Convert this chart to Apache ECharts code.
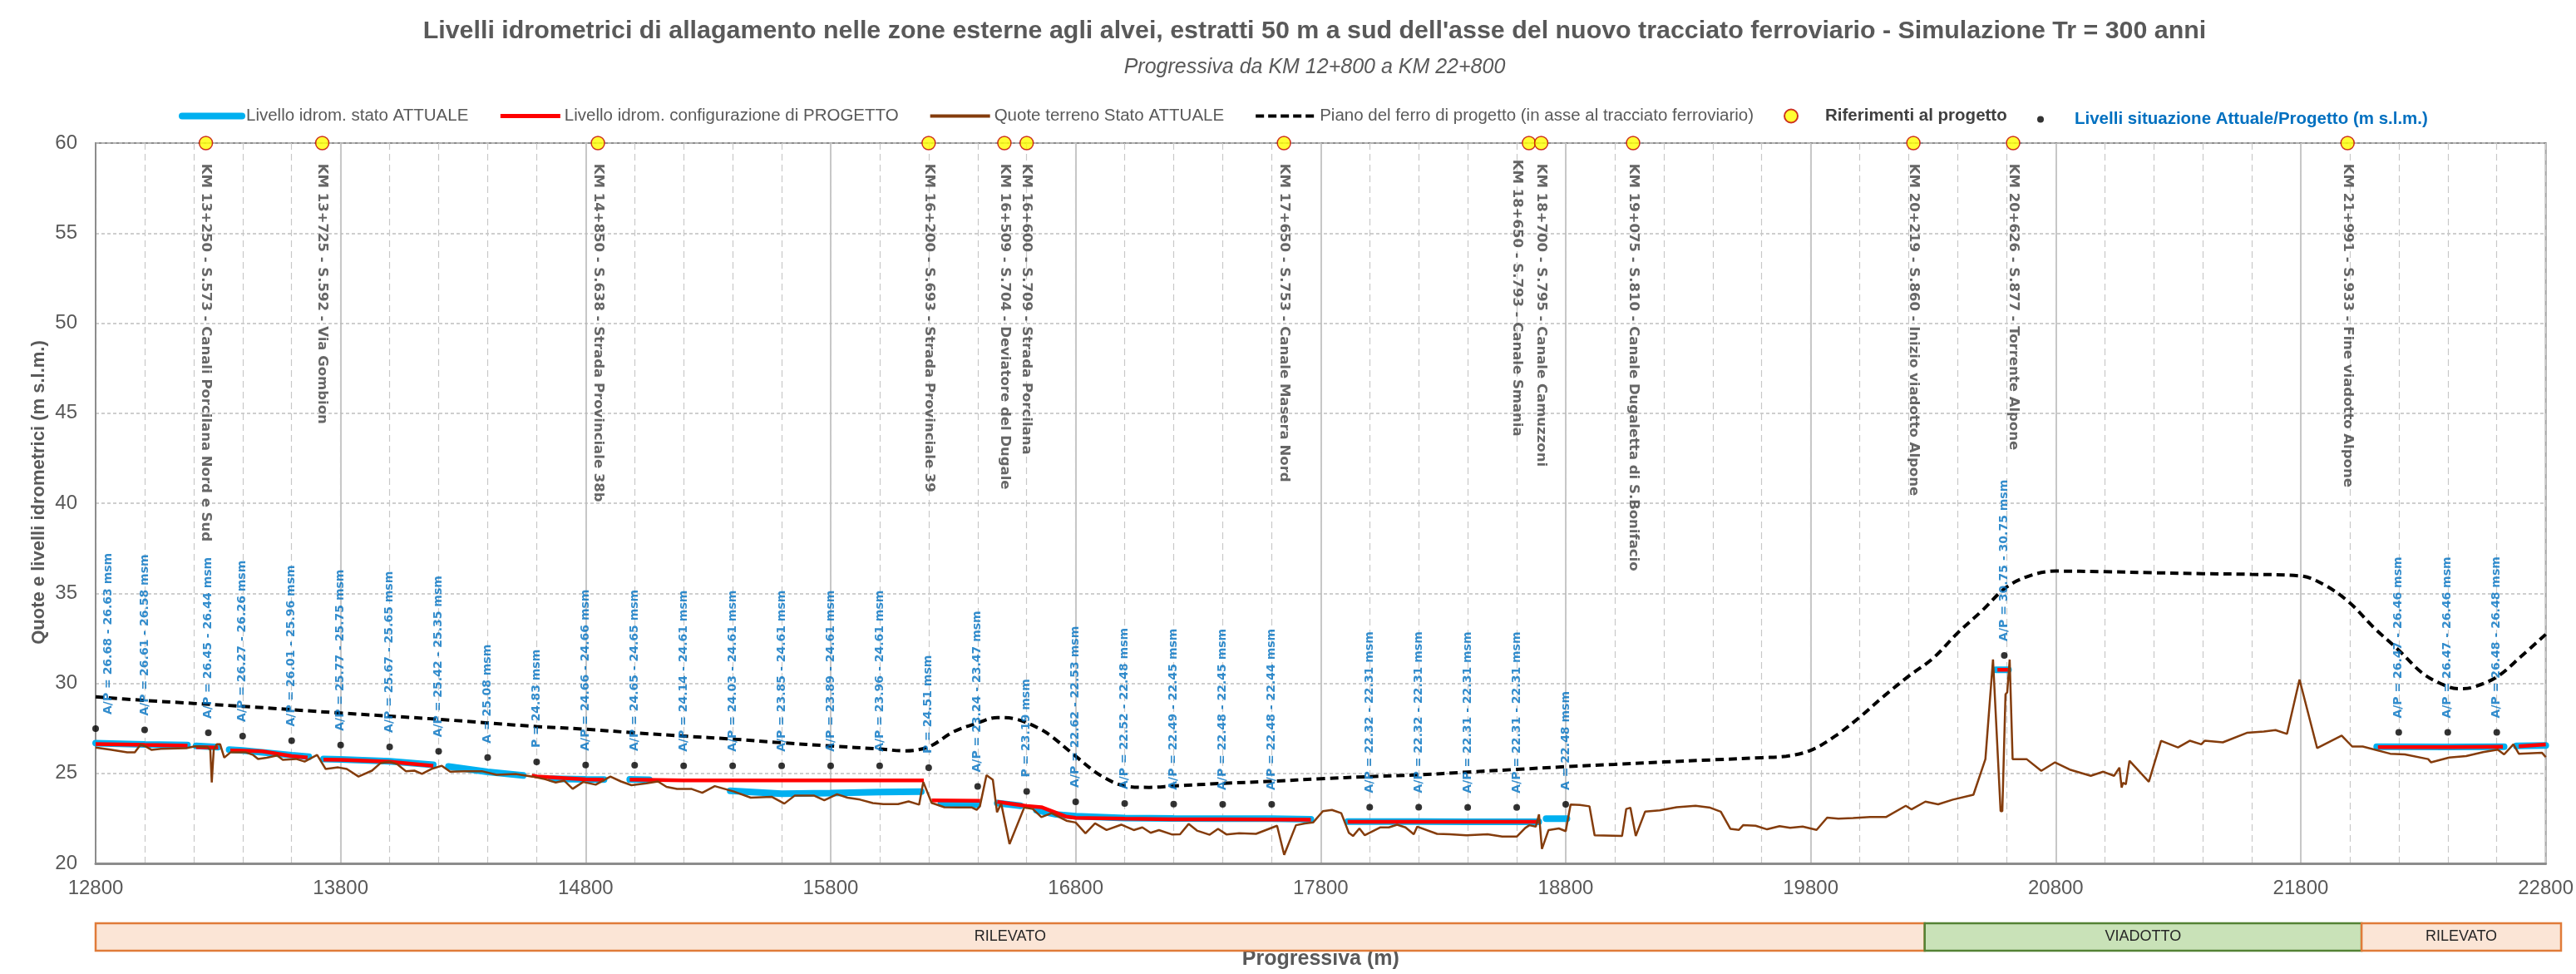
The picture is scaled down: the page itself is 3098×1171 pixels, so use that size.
<!DOCTYPE html>
<html>
<head>
<meta charset="utf-8">
<script src="https://cdn.jsdelivr.net/npm/echarts@6/dist/echarts.min.js"></script>
<style>html,body{margin:0;padding:0;background:#fff}#c{width:3098px;height:1171px}</style>
</head>
<body>
<div id="c"></div>
<script>
// ---------------- DATA ----------------
const titleText = "Livelli idrometrici di allagamento nelle zone esterne agli alvei, estratti 50 m a sud dell'asse del nuovo tracciato ferroviario - Simulazione Tr = 300 anni";
const subtitleText = "Progressiva da KM 12+800 a KM 22+800";
const yTitle = "Quote e livelli idrometrici (m s.l.m.)";
const xTitle = "Progressiva (m)";
const legendNames = ["Livello idrom. stato ATTUALE", "Livello idrom. configurazione di PROGETTO", "Quote terreno Stato ATTUALE", "Piano del ferro di progetto (in asse al tracciato ferroviario)", "Riferimenti al progetto", "Livelli situazione Attuale/Progetto (m s.l.m.)"];

// measurement points (progressiva, m) and levels A (attuale) / P (progetto), m s.l.m.
const pointKm = [12800,13000,13260,13400,13600,13800,14000,14200,14400,14600,14800,15000,15200,15400,15600,15800,16000,16200,16400,16600,16800,17000,17200,17400,17600,18000,18200,18400,18600,18800,20590,22200,22400,22600];
const levelA = [26.68,26.61,26.45,26.27,26.01,25.77,25.67,25.42,25.08,null,24.66,24.65,24.14,24.03,23.85,23.89,23.96,null,23.24,null,22.62,22.52,22.49,22.48,22.48,22.32,22.32,22.31,22.31,22.48,30.75,26.47,26.47,26.48];
const levelP = [26.63,26.58,26.44,26.26,25.96,25.75,25.65,25.35,null,24.83,24.66,24.65,24.61,24.61,24.61,24.61,24.61,24.51,23.47,23.19,22.53,22.48,22.45,22.45,22.44,22.31,22.31,22.31,22.31,null,30.75,26.46,26.46,26.48];

// project references (drawn at the top of the chart)
const refKm = [13250,13725,14850,16200,16509,16600,17650,18650,18700,19075,20219,20626,21991];
const refLevel = 60;
const refLabels = [
  "KM 13+250 - S.573 - Canali Porcilana Nord e Sud",
  "KM 13+725 - S.592 - Via Gombion",
  "KM 14+850 - S.638 - Strada Provinciale 38b",
  "KM 16+200 - S.693 - Strada Provinciale 39",
  "KM 16+509 - S.704 - Deviatore del Dugale",
  "KM 16+600 - S.709 - Strada Porcilana",
  "KM 17+650 - S.753 - Canale Masera Nord",
  "KM 18+650 - S.793 - Canale Smania",
  "KM 18+700 - S.795 - Canale Camuzzoni",
  "KM 19+075 - S.810 - Canale Dugaletta di S.Bonifacio",
  "KM 20+219 - S.860 - Inizio viadotto Alpone",
  "KM 20+626 - S.877 - Torrente Alpone",
  "KM 21+991 - S.933 - Fine viadotto Alpone"
];

// water level segments - stato attuale
const attualeSegments = [
  [[12800,26.68],[13000,26.61],[13175,26.57]],
  [[13210,26.52],[13300,26.46]],
  [[13345,26.32],[13400,26.27],[13600,26.01],[13670,25.92]],
  [[13730,25.8],[13800,25.77],[14000,25.67],[14178,25.47]],
  [[14240,25.38],[14400,25.08],[14545,24.88]],
  [[14660,24.7],[14800,24.66],[14875,24.65]],
  [[14980,24.66],[15060,24.64]],
  [[15390,24.03],[15600,23.87],[15800,23.9],[16000,23.96],[16170,23.98]],
  [[16250,23.32],[16400,23.26]],
  [[16480,23.35],[16575,23.2]],
  [[16640,22.95],[16720,22.72],[16800,22.62],[17000,22.52],[17200,22.49],[17400,22.48],[17600,22.48],[17760,22.45]],
  [[17910,22.32],[18200,22.32],[18400,22.31],[18690,22.31]],
  [[18720,22.48],[18805,22.48]],
  [[20555,30.75],[20607,30.75]],
  [[22110,26.48],[22400,26.47],[22630,26.48]],
  [[22680,26.52],[22800,26.55]]
];
// water level segments - configurazione di progetto
const progettoSegments = [
  [[12800,26.63],[13000,26.58],[13175,26.54]],
  [[13210,26.45],[13300,26.43]],
  [[13350,26.27],[13400,26.26],[13480,26.22],[13600,25.96],[13665,25.88]],
  [[13730,25.76],[13800,25.75],[14000,25.65],[14178,25.42]],
  [[14580,24.88],[14600,24.83],[14800,24.66],[14875,24.64]],
  [[14980,24.65],[15200,24.61],[16180,24.61]],
  [[16212,23.5],[16410,23.47]],
  [[16480,23.42],[16600,23.19],[16660,23.12],[16760,22.6],[16800,22.53],[17000,22.48],[17200,22.45],[17400,22.45],[17600,22.44],[17760,22.42]],
  [[17910,22.31],[18690,22.31]],
  [[20562,30.75],[20605,30.75]],
  [[22115,26.46],[22400,26.46],[22625,26.48]],
  [[22690,26.5],[22800,26.6]]
];

// ground profile - stato attuale
const terreno = [[12800,26.43],[12860,26.32],[12929,26.17],[12960,26.17],[12984,26.6],[13007,26.47],[13029,26.3],[13067,26.36],[13170,26.4],[13205,26.5],[13256,26.47],[13268,26.3],[13274,24.49],[13282,26.3],[13295,26.62],[13308,26.62],[13325,25.87],[13351,26.17],[13412,26.17],[13443,26.02],[13463,25.8],[13498,25.87],[13541,25.99],[13564,25.75],[13618,25.8],[13653,25.65],[13704,26.02],[13739,25.24],[13790,25.33],[13825,25.24],[13873,24.82],[13928,25.15],[13963,25.57],[13998,25.65],[14032,25.5],[14066,25.12],[14101,25.15],[14132,24.97],[14170,25.24],[14213,25.42],[14247,25.09],[14307,25.12],[14376,25.12],[14437,24.92],[14514,24.97],[14583,24.82],[14635,24.67],[14678,24.49],[14712,24.6],[14747,24.14],[14790,24.52],[14841,24.37],[14901,24.82],[14944,24.55],[14987,24.34],[15048,24.45],[15095,24.55],[15130,24.25],[15173,24.13],[15233,24.13],[15276,23.92],[15327,24.29],[15405,23.99],[15474,23.65],[15559,23.7],[15611,23.32],[15654,23.77],[15731,23.77],[15774,23.5],[15826,23.84],[15869,23.65],[15920,23.54],[15972,23.35],[16015,23.29],[16075,23.29],[16118,23.44],[16161,23.26],[16178,24.52],[16212,23.36],[16264,23.12],[16315,23.11],[16375,23.11],[16396,22.97],[16409,23.17],[16436,24.9],[16462,24.64],[16479,22.84],[16496,23.32],[16530,21.07],[16590,23.1],[16625,23.02],[16660,22.57],[16702,22.79],[16762,22.37],[16800,22.27],[16840,21.67],[16879,22.22],[16926,21.85],[16986,22.15],[17037,21.85],[17072,22.0],[17106,21.7],[17140,21.85],[17192,21.61],[17226,21.62],[17261,22.19],[17295,21.82],[17347,21.59],[17381,21.92],[17415,21.61],[17467,21.67],[17536,21.64],[17622,22.09],[17651,20.47],[17699,22.12],[17735,22.22],[17769,22.27],[17809,22.9],[17846,22.97],[17884,22.79],[17915,21.7],[17932,21.52],[17958,21.94],[17980,21.56],[18044,22.0],[18078,22.0],[18112,22.15],[18146,22.0],[18180,21.62],[18194,22.04],[18275,21.64],[18327,21.62],[18395,21.56],[18481,21.62],[18541,21.49],[18601,21.49],[18635,21.97],[18652,22.12],[18678,22.04],[18691,22.72],[18703,20.8],[18730,21.85],[18772,21.94],[18800,21.79],[18820,23.27],[18858,23.24],[18897,23.17],[18918,21.56],[19030,21.52],[19047,23.02],[19064,23.09],[19086,21.52],[19124,22.87],[19184,22.94],[19253,23.12],[19330,23.2],[19390,23.09],[19433,22.87],[19472,21.92],[19507,21.86],[19524,22.12],[19575,22.09],[19622,21.89],[19673,22.07],[19716,21.97],[19767,22.04],[19824,21.86],[19867,22.54],[19913,22.48],[19973,22.52],[20042,22.57],[20107,22.57],[20188,23.2],[20211,23.0],[20268,23.43],[20320,23.28],[20380,23.54],[20464,23.81],[20513,25.79],[20544,31.32],[20575,22.9],[20582,22.9],[20595,29.39],[20602,29.5],[20612,31.32],[20624,25.79],[20681,25.79],[20741,25.14],[20797,25.61],[20857,25.21],[20943,24.86],[20994,25.09],[21038,24.86],[21060,25.32],[21069,24.21],[21075,24.47],[21086,24.39],[21101,25.7],[21180,24.53],[21230,26.81],[21299,26.44],[21347,26.81],[21394,26.61],[21408,26.81],[21482,26.72],[21580,27.25],[21649,27.32],[21697,27.4],[21744,27.19],[21795,30.21],[21867,26.4],[21967,27.1],[22010,26.49],[22053,26.49],[22165,26.09],[22225,26.05],[22320,25.79],[22332,25.61],[22406,25.88],[22475,25.96],[22544,26.18],[22604,26.32],[22630,26.05],[22668,26.61],[22690,26.09],[22785,26.14],[22800,25.9]];

// top of rail profile (piano del ferro di progetto)
const pianoFerro = [[12800,29.25],[13000,29.05],[13400,28.72],[13800,28.35],[14200,28.0],[14600,27.6],[14800,27.45],[15000,27.25],[15200,27.07],[15400,26.9],[15600,26.7],[15800,26.52],[16000,26.35],[16100,26.25],[16200,26.47],[16300,27.3],[16400,27.8],[16480,28.1],[16560,28.0],[16650,27.5],[16700,27.07],[16800,25.95],[16900,24.9],[17000,24.3],[17100,24.22],[17200,24.3],[17400,24.44],[17600,24.56],[17800,24.7],[18000,24.82],[18200,24.92],[18400,25.07],[18600,25.22],[18800,25.37],[19000,25.5],[19200,25.63],[19400,25.75],[19600,25.87],[19700,25.95],[19800,26.28],[19900,27.07],[20000,28.12],[20100,29.3],[20200,30.4],[20300,31.4],[20400,32.8],[20500,34.04],[20600,35.35],[20700,36.0],[20800,36.23],[21000,36.2],[21200,36.14],[21400,36.09],[21600,36.05],[21800,35.96],[21900,35.44],[22000,34.47],[22100,33.07],[22200,31.84],[22300,30.53],[22400,29.82],[22450,29.7],[22500,29.77],[22600,30.35],[22700,31.5],[22800,32.72]];

// tipologia opera (band under the axis)
const sectionStart = [12800, 20219, 21991];
const sectionEnd = [20219, 21991, 22800];
const sectionName = ["RILEVATO", "VIADOTTO", "RILEVATO"];

const xMin = 12800, xMax = 22800, yMin = 20, yMax = 60;

// ---------------- BUILD ----------------
const NARROW = "'Liberation Sans Narrow', 'Arial Narrow', 'Liberation Sans', sans-serif";
const VERD = "'DejaVu Sans', Verdana, sans-serif";
const GRAY = '#595959';
const DOT_OFFSET = 0.8;

function joinSegments(segs) {
  const out = [];
  segs.forEach((s, i) => { if (i) out.push('-'); s.forEach(p => out.push(p)); });
  return out;
}
function fmt(v) { return v.toFixed(2); }
const levelTexts = pointKm.map((x, i) => {
  const a = levelA[i], p = levelP[i];
  if (a != null && p != null) return 'A/P = ' + fmt(a) + ' - ' + fmt(p) + ' msm';
  if (a != null) return 'A = ' + fmt(a) + ' msm';
  return 'P = ' + fmt(p) + ' msm';
});
// label offsets are given in the rotated label frame
const dotData = pointKm.map((x, i) => {
  const m = Math.max(levelA[i] == null ? -1e9 : levelA[i], levelP[i] == null ? -1e9 : levelP[i]);
  const item = { value: [x, m + DOT_OFFSET] };
  if (i === 0) item.label = { offset: [0, 15] };
  return item;
});
const refData = refKm.map((x, i) => {
  const item = { value: [x, refLevel] };
  if (i + 1 < refKm.length && refKm[i + 1] - x < 60) item.label = { offset: [-5, 14] };
  return item;
});
const hideSym = { opacity: 0 };

const chart = echarts.init(document.getElementById('c'), null, { renderer: 'canvas' });
const option = {
  animation: false,
  backgroundColor: '#ffffff',
  title: [
    { text: titleText, left: 1576, top: 18, textAlign: 'center',
      textStyle: { fontFamily: NARROW, fontSize: 30.4, fontWeight: 'bold', color: GRAY } },
    { text: subtitleText, left: 1576, top: 64, textAlign: 'center',
      textStyle: { fontFamily: NARROW, fontSize: 25, fontStyle: 'italic', fontWeight: 'normal', color: GRAY } }
  ],
  graphic: [
    { type: 'text', x: 47, y: 592, rotation: Math.PI / 2, silent: true,
      style: { text: yTitle, fontFamily: NARROW, fontSize: 22, fontWeight: 'bold', fill: GRAY,
        align: 'center', verticalAlign: 'middle', textAlign: 'center', textVerticalAlign: 'middle' } }
  ],
  legend: [
    { left: 210, top: 124, itemWidth: 72, itemHeight: 16, itemGap: 36, selectedMode: false,
      textStyle: { fontFamily: NARROW, fontSize: 20.5, color: GRAY },
      data: [
        { name: legendNames[0], itemStyle: hideSym, lineStyle: { width: 8, cap: 'round' } },
        { name: legendNames[1], itemStyle: hideSym, lineStyle: { width: 5 } },
        { name: legendNames[2], itemStyle: hideSym, lineStyle: { width: 4 } },
        { name: legendNames[3], itemStyle: hideSym, lineStyle: { width: 4, type: [10, 5] } },
        { name: legendNames[4], textStyle: { fontWeight: 'bold', color: '#404040' } }
      ] },
    { left: 2445, top: 128, itemWidth: 72, itemHeight: 8, selectedMode: false,
      textStyle: { fontFamily: NARROW, fontSize: 20.5, fontWeight: 'bold', color: '#0070C0' },
      data: [{ name: legendNames[5] }] }
  ],
  grid: [
    { left: 115, right: 20, top: 172, bottom: 114, show: true, borderColor: '#8C8C8C', borderWidth: 2, backgroundColor: 'transparent' },
    { left: 115, right: 18, top: 1110, height: 33 }
  ],
  xAxis: [
    { type: 'value', gridIndex: 0, min: xMin, max: xMax, interval: 1000,
      axisLine: { show: true, onZero: false, lineStyle: { color: '#8C8C8C', width: 3 } },
      axisTick: { show: false },
      axisLabel: { fontFamily: NARROW, fontSize: 24, color: GRAY, margin: 18, formatter: v => String(v) },
      splitLine: { show: true, lineStyle: { color: '#B4B4B4', width: 1.5, type: 'solid' } },
      name: xTitle, nameLocation: 'middle', nameGap: 103,
      nameTextStyle: { fontFamily: NARROW, fontSize: 25, fontWeight: 'bold', color: GRAY } },
    { type: 'value', gridIndex: 0, min: xMin, max: xMax, interval: 200, position: 'top',
      axisLine: { show: false }, axisTick: { show: false }, axisLabel: { show: false },
      splitLine: { show: true, lineStyle: { color: '#C8C8C8', width: 1.2, type: [8, 5] } } },
    { type: 'value', gridIndex: 1, min: xMin, max: xMax, show: false }
  ],
  yAxis: [
    { type: 'value', gridIndex: 0, min: yMin, max: yMax, interval: 5,
      axisLine: { show: true, lineStyle: { color: '#8C8C8C', width: 2 } },
      axisTick: { show: false },
      axisLabel: { fontFamily: NARROW, fontSize: 24, color: GRAY, margin: 22 },
      splitLine: { show: true, lineStyle: { color: '#BFBFBF', width: 1.5, type: [4, 3] } } },
    { type: 'value', gridIndex: 1, min: 0, max: 1, show: false }
  ],
  series: [
    { name: legendNames[0], type: 'line', xAxisIndex: 0, yAxisIndex: 0, data: joinSegments(attualeSegments),
      symbol: 'none', showSymbol: false, connectNulls: false, z: 2,
      lineStyle: { color: '#00B0F0', width: 8, cap: 'round' }, itemStyle: { color: '#00B0F0' } },
    { name: legendNames[1], type: 'line', xAxisIndex: 0, yAxisIndex: 0, data: joinSegments(progettoSegments),
      symbol: 'none', showSymbol: false, connectNulls: false, z: 3,
      lineStyle: { color: '#FF0000', width: 4.5 }, itemStyle: { color: '#FF0000' } },
    { name: legendNames[2], type: 'line', xAxisIndex: 0, yAxisIndex: 0, data: terreno,
      symbol: 'none', showSymbol: false, z: 4,
      lineStyle: { color: '#843C0C', width: 2.5 }, itemStyle: { color: '#843C0C' } },
    { name: legendNames[3], type: 'line', xAxisIndex: 0, yAxisIndex: 0, data: pianoFerro,
      symbol: 'none', showSymbol: false, smooth: 0.35, z: 5,
      lineStyle: { color: '#000000', width: 4, type: [10, 6] }, itemStyle: { color: '#000000' } },
    { name: legendNames[4], type: 'scatter', xAxisIndex: 0, yAxisIndex: 0, data: refData, clip: false,
      symbol: 'circle', symbolSize: 16, z: 7,
      itemStyle: { color: '#FFFF00', borderColor: '#C00000', borderWidth: 1.5 },
      label: { show: true, position: 'bottom', distance: 16, rotate: -90, align: 'left', verticalAlign: 'middle',
        formatter: p => refLabels[p.dataIndex], fontFamily: VERD, fontSize: 16.5, fontWeight: 'bold', color: '#404040' } },
    { name: legendNames[5], type: 'scatter', xAxisIndex: 0, yAxisIndex: 0, data: dotData, clip: false,
      symbol: 'circle', symbolSize: 8, z: 6,
      itemStyle: { color: '#000000' },
      label: { show: true, position: 'top', distance: 13, rotate: 90, align: 'left', verticalAlign: 'middle',
        formatter: p => levelTexts[p.dataIndex], fontFamily: VERD, fontSize: 14, fontWeight: 'bold', color: '#0070C0' } },
    { type: 'custom', xAxisIndex: 2, yAxisIndex: 1, silent: true,
      data: sectionName.map((n, i) => [sectionStart[i], sectionEnd[i], i]),
      encode: { x: [0, 1] },
      renderItem: function (params, api) {
        const i = api.value(2);
        const p0 = api.coord([api.value(0), 1]);
        const p1 = api.coord([api.value(1), 0]);
        const via = sectionName[i] === 'VIADOTTO';
        return {
          type: 'rect',
          shape: { x: p0[0], y: p0[1], width: p1[0] - p0[0], height: p1[1] - p0[1] },
          style: { fill: via ? '#C9E2B8' : '#FBE5D6', stroke: via ? '#548235' : '#E07B39', lineWidth: 2.5,
            text: sectionName[i], textFill: '#262626', fontFamily: NARROW, fontSize: 18, textPosition: 'inside' }
        };
      } }
  ]
};
chart.setOption(option);
</script>
</body>
</html>
